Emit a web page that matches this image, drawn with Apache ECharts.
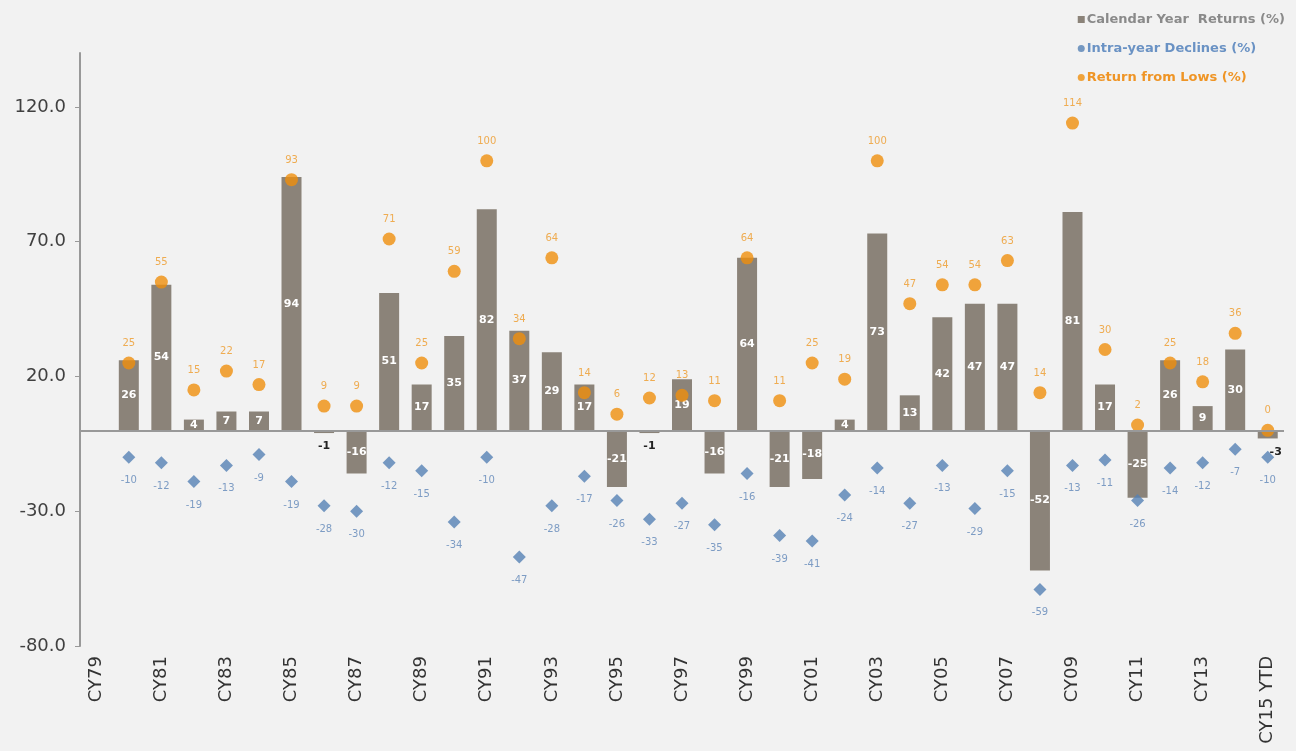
<!DOCTYPE html>
<html>
<head>
<meta charset="utf-8">
<script src="https://cdn.jsdelivr.net/npm/echarts@6/dist/echarts.min.js"></script>
<style>
html,body{margin:0;padding:0;background:#f2f2f2;}
#chart{width:1296px;height:751px;}
</style>
</head>
<body>
<div id="chart"></div>
<script>
var categories = ['CY79','CY80','CY81','CY82','CY83','CY84','CY85','CY86','CY87','CY88','CY89','CY90','CY91','CY92','CY93','CY94','CY95','CY96','CY97','CY98','CY99','CY00','CY01','CY02','CY03','CY04','CY05','CY06','CY07','CY08','CY09','CY10','CY11','CY12','CY13','CY14','CY15 YTD'];
var calendarReturns = [null,26,54,4,7,7,94,-1,-16,51,17,35,82,37,29,17,-21,-1,19,-16,64,-21,-18,4,73,13,42,47,47,-52,81,17,-25,26,9,30,-3];
var intraYearDeclines = [null,-10,-12,-19,-13,-9,-19,-28,-30,-12,-15,-34,-10,-47,-28,-17,-26,-33,-27,-35,-16,-39,-41,-24,-14,-27,-13,-29,-15,-59,-13,-11,-26,-14,-12,-7,-10];
var returnFromLows = [null,25,55,15,22,17,93,9,9,71,25,59,100,34,64,14,6,12,13,11,64,11,25,19,100,47,54,54,63,14,114,30,2,25,18,36,0];
var yTicks = {min:-80, max:140, interval:50};

var barColor = '#8b8379';
var blue = '#5581b4';
var orange = '#ef8e0c';

var barData = calendarReturns.map(function(v, i){
  if (v === null) return null;
  if (Math.abs(v) <= 3) {
    var last = (i === calendarReturns.length - 1);
    return {value:v, label:{show:true, position:'bottom', color:'#222', fontWeight:'bold', distance:8, offset:[last ? 8 : 0, 0]}};
  }
  return v;
});

var chart = echarts.init(document.getElementById('chart'));
chart.setOption({
  backgroundColor:'#f2f2f2',
  animation:false,
  textStyle:{fontFamily:'DejaVu Sans, Liberation Sans, sans-serif'},
  legend:{
    orient:'vertical', right:6, top:8, itemGap:16, itemWidth:7, itemHeight:7,
    textStyle:{fontSize:13, fontWeight:'bold', padding:[0,0,0,-3]},
    data:[
      {name:'Calendar Year  Returns (%)', icon:'rect', textStyle:{color:'#8a8a8a'}},
      {name:'Intra-year Declines (%)', icon:'circle', textStyle:{color:'#6a92c4'}},
      {name:'Return from Lows (%)', icon:'circle', textStyle:{color:'#ef9526'}}
    ]
  },
  grid:{left:80, right:12, top:53, bottom:105},
  xAxis:{
    type:'category', data:categories,
    axisLine:{show:false}, axisTick:{show:false},
    axisLabel:{interval:1, rotate:90, color:'#333', fontSize:18, margin:10}
  },
  yAxis:{
    type:'value', min:yTicks.min, max:yTicks.max, interval:yTicks.interval,
    axisLine:{show:true, lineStyle:{color:'#999', width:2}},
    axisTick:{show:true, length:5, lineStyle:{color:'#999'}},
    splitLine:{show:false},
    axisLabel:{showMaxLabel:false, color:'#404040', fontSize:18, margin:14,
      formatter:function(v){return v.toFixed(1);}}
  },
  series:[
    {
      name:'Calendar Year  Returns (%)', type:'bar', data:barData, barWidth:20,
      itemStyle:{color:barColor},
      label:{show:true, position:'inside', color:'#fff', fontSize:11, fontWeight:'bold'},
      markLine:{silent:true, symbol:'none', label:{show:false},
        lineStyle:{color:'#999', width:2, type:'solid'},
        data:[{yAxis:0}]},
      z:2
    },
    {
      name:'Intra-year Declines (%)', type:'scatter', data:intraYearDeclines,
      symbol:'diamond', symbolSize:[13,13],
      itemStyle:{color:blue},
      label:{show:true, position:'bottom', distance:12, color:'#5f86b8', fontSize:10},
      z:3
    },
    {
      name:'Return from Lows (%)', type:'scatter', data:returnFromLows,
      symbol:'circle', symbolSize:13,
      itemStyle:{color:orange},
      label:{show:true, position:'top', distance:8, color:'#ee9a28', fontSize:10},
      z:4
    }
  ]
});
</script>
</body>
</html>
